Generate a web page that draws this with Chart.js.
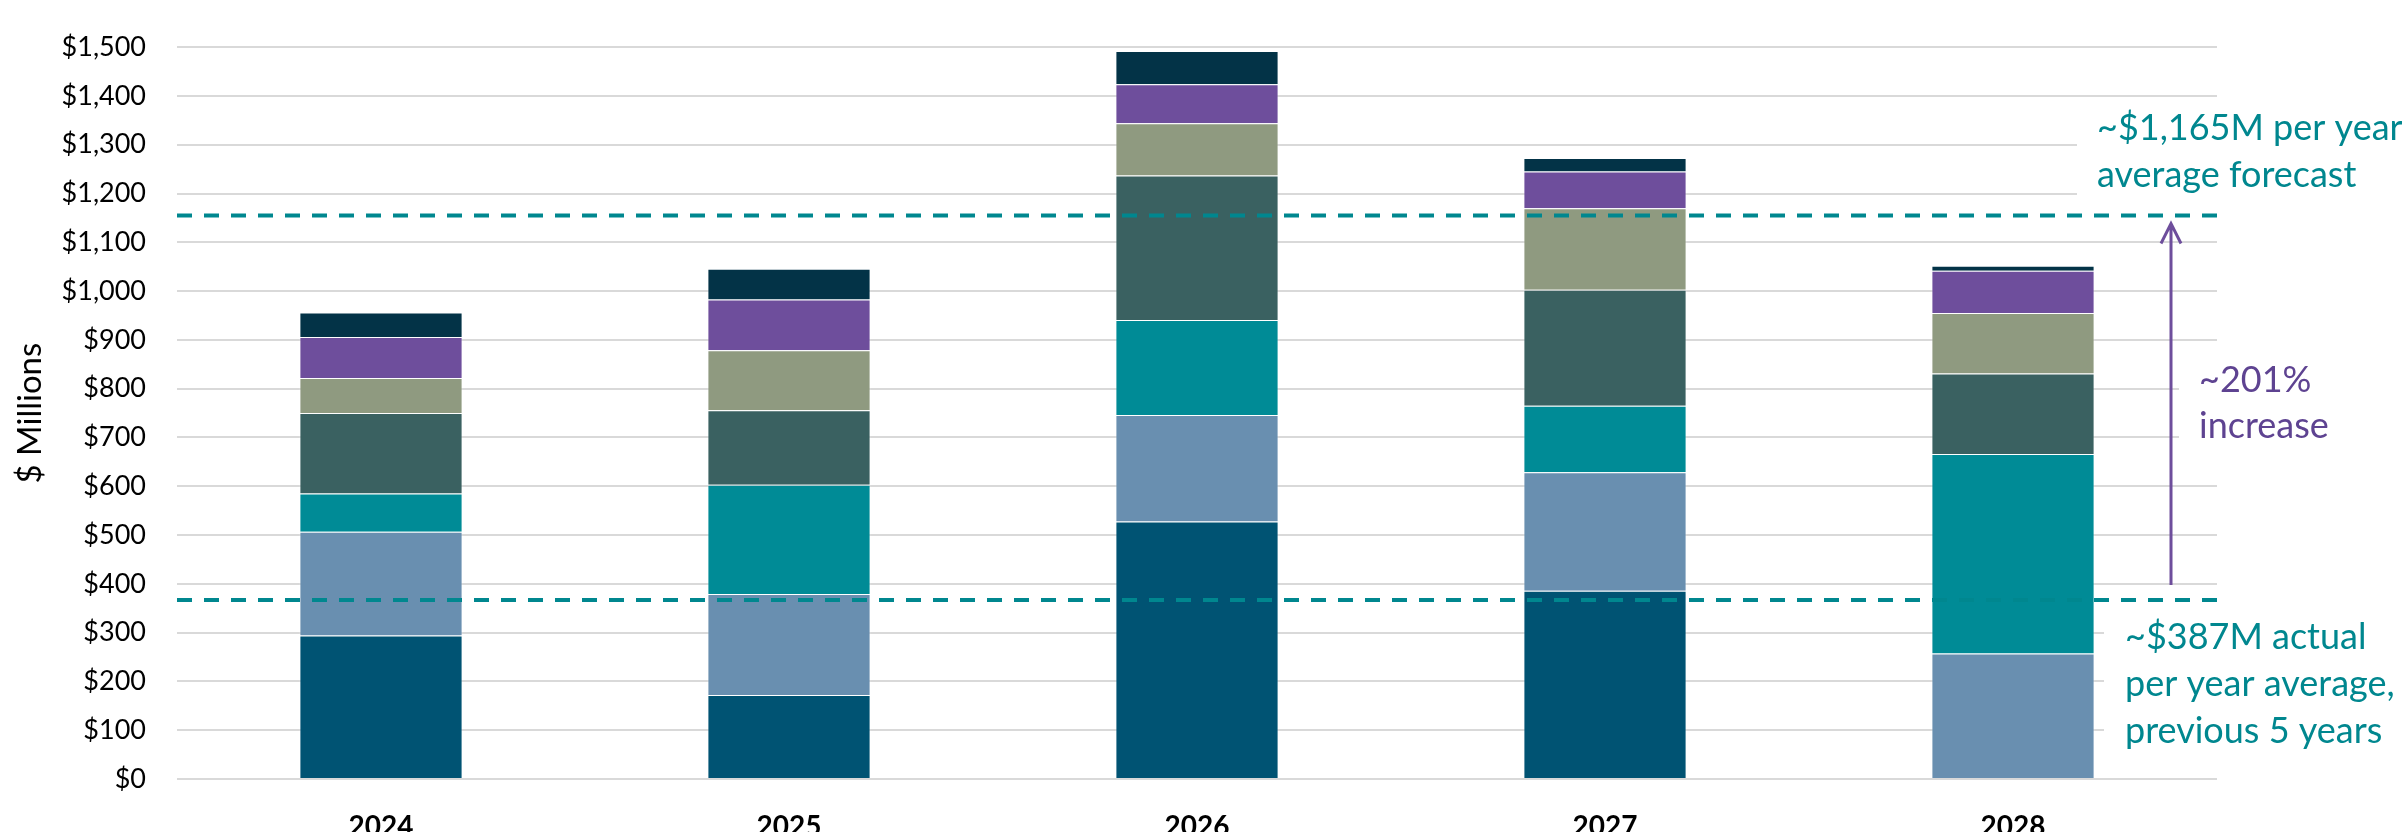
<!DOCTYPE html>
<html>
<head>
<meta charset="utf-8">
<script src="https://cdn.jsdelivr.net/npm/chart.js@4.4.1/dist/chart.umd.min.js"></script>
<style>
  html, body { margin: 0; padding: 0; background: #fff; }
</style>
</head>
<body>
<canvas id="chart" width="2402" height="832"></canvas>
<script>
// values, $ millions, bottom segment first
const years = ["2024", "2025", "2026", "2027", "2028"];
const seg1 = [294, 172, 528, 386, 0];
const seg2 = [213, 207, 218, 243, 257];
const seg3 = [78, 224, 195, 136, 409];
const seg4 = [165, 153, 296, 238, 165];
const seg5 = [72, 123, 107, 167, 124];
const seg6 = [84, 104, 80, 75, 87];
const seg7 = [50, 63, 68, 28, 10];

const yMin = 0;
const yMax = 1500;
const yStep = 100;

// dashed reference lines, where they sit on the axis
const forecastAvg = 1155;
const actualAvg = 367;

const forecastText = ["~$1,165M per year", "average forecast"];
const increaseText = ["~201%", "increase"];
const actualText = ["~$387M actual", "per year average,", "previous 5 years"];

const colors = ["#005373", "#698FB0", "#008B96", "#3A6161", "#8F9A80", "#6E4E9C", "#033347"];

const teal = "#00878F";
const purple = "#6E4E9C";
const font = "Lato";

const annotations = {
  id: "annotations",
  afterDatasetsDraw(chart) {
    const { ctx, chartArea: a, scales: { y } } = chart;
    const hiY = y.getPixelForValue(forecastAvg);
    const loY = y.getPixelForValue(actualAvg);

    ctx.save();
    // white boxes behind the text so the gridlines stop short of it
    ctx.fillStyle = "#fff";
    ctx.fillRect(a.right - 140, hiY - 104, 400, 95);
    ctx.fillRect(a.right - 38, loY - 249, 300, 105);
    ctx.fillRect(a.right - 113, loY + 11, 400, 150);

    // dashed average lines
    ctx.strokeStyle = teal;
    ctx.lineWidth = 4;
    ctx.setLineDash([15, 12]);
    [hiY, loY].forEach(py => {
      ctx.beginPath();
      ctx.moveTo(a.left, py);
      ctx.lineTo(a.right + 6, py);
      ctx.stroke();
    });
    ctx.setLineDash([]);

    // arrow from the actual line up to the forecast line
    const ax = a.right - 46;
    const top = hiY + 8;
    ctx.strokeStyle = purple;
    ctx.lineWidth = 3;
    ctx.beginPath();
    ctx.moveTo(ax, loY - 15);
    ctx.lineTo(ax, top);
    ctx.moveTo(ax - 10, top + 20);
    ctx.lineTo(ax, top);
    ctx.lineTo(ax + 10, top + 20);
    ctx.stroke();

    ctx.font = "36px " + font;
    ctx.textAlign = "left";
    ctx.textBaseline = "alphabetic";
    ctx.fillStyle = teal;
    forecastText.forEach((t, i) => ctx.fillText(t, a.right - 120, hiY - 76 + i * 47));
    actualText.forEach((t, i) => ctx.fillText(t, a.right - 92, loY + 49 + i * 47));
    ctx.fillStyle = "#5E4391";
    increaseText.forEach((t, i) => ctx.fillText(t, a.right - 18, loY - 208 + i * 46));
    ctx.restore();
  }
};

const segments = [seg1, seg2, seg3, seg4, seg5, seg6, seg7];

new Chart(document.getElementById("chart"), {
  type: "bar",
  data: {
    labels: years,
    datasets: segments.map((d, i) => ({
      label: "Segment " + (i + 1),
      data: d,
      backgroundColor: colors[i],
      borderColor: "rgba(255,255,255,0.35)",
      borderWidth: 1,
      barPercentage: 0.4,
      categoryPercentage: 1.0,
    })),
  },
  options: {
    responsive: false,
    animation: false,
    layout: { padding: { top: 25, right: 185, left: 0, bottom: 0 } },
    plugins: {
      legend: { display: false },
      tooltip: { enabled: false },
    },
    scales: {
      x: {
        stacked: true,
        grid: { display: false },
        border: { display: false },
        ticks: {
          color: "#000",
          font: { family: font, size: 28, weight: "bold" },
          padding: 23,
        },
        afterFit(s) { s.height = 53; },
      },
      y: {
        stacked: true,
        min: yMin,
        max: yMax,
        ticks: {
          stepSize: yStep,
          color: "#000",
          font: { family: font, size: 27 },
          padding: 31,
          callback: v => "$" + v.toLocaleString("en-US"),
        },
        grid: { color: "#D9D9D9", lineWidth: 2, drawTicks: false },
        border: { display: false },
        title: {
          display: true,
          text: "$ Millions",
          color: "#000",
          font: { family: font, size: 33 },
          padding: { top: 11 },
        },
        afterFit(s) { s.width = 177; },
      },
    },
  },
  plugins: [annotations],
});
</script>
</body>
</html>
